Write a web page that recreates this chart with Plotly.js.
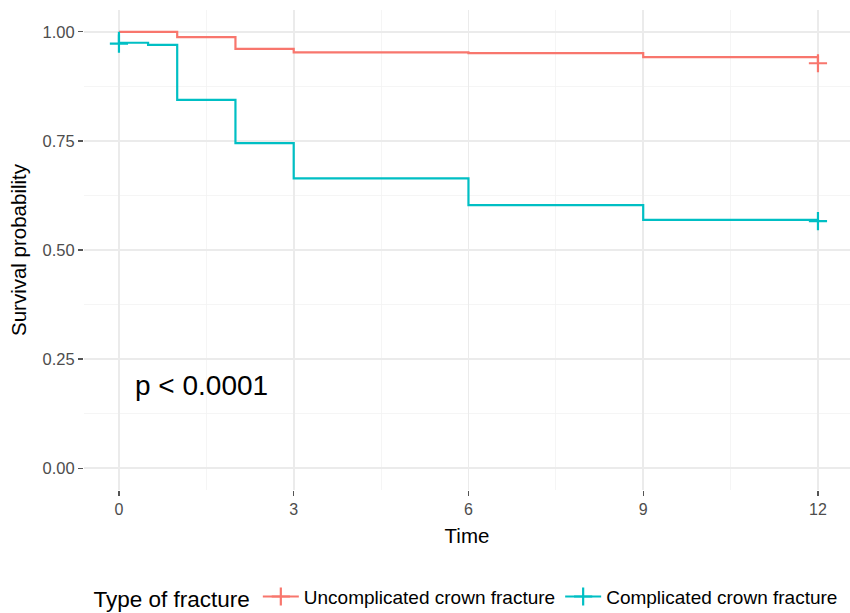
<!DOCTYPE html>
<html><head><meta charset="utf-8">
<script src="https://cdn.plot.ly/plotly-3.0.1.min.js"></script>
<style>html,body{margin:0;padding:0;background:#fff}#chart{width:850px;height:613px}</style>
</head><body><div id="chart"></div>
<script>
const seriesNames = ["Uncomplicated crown fracture", "Complicated crown fracture"];
const seriesColors = ["#F8766D", "#00BFC4"];
const uncompTime = [0, 1, 2, 3, 6, 9, 12];
const uncompSurv = [1.0, 0.988, 0.961, 0.953, 0.951, 0.942, 0.928];
const uncompCensTime = [12];
const uncompCensSurv = [0.928];
const compTime = [0, 0, 0.5, 1, 2, 3, 6, 9, 12];
const compSurv = [1.0, 0.975, 0.970, 0.844, 0.745, 0.664, 0.603, 0.569, 0.566];
const compCensTime = [0, 12];
const compCensSurv = [0.973, 0.566];
const xTicks = [0, 3, 6, 9, 12];
const yTicks = [0, 0.25, 0.5, 0.75, 1.0];
const yTickLabels = ["0.00", "0.25", "0.50", "0.75", "1.00"];
const pText = "p < 0.0001";
const legendTitle = "Type of fracture";

const font = "Liberation Sans, Arial, sans-serif";
const lines = [[uncompTime, uncompSurv], [compTime, compSurv]];
const cens = [[uncompCensTime, uncompCensSurv], [compCensTime, compCensSurv]];
const traces = [];
lines.forEach((d, i) => {
  traces.push({x: d[0], y: d[1], type: 'scatter', mode: 'lines', line: {shape: 'hv', color: seriesColors[i], width: 2.2}, showlegend: false, hoverinfo: 'skip'});
});
cens.forEach((d, i) => {
  traces.push({x: d[0], y: d[1], type: 'scatter', mode: 'markers', marker: {symbol: 'cross-thin-open', size: 13, color: seriesColors[i], line: {color: seriesColors[i], width: 2.2}}, showlegend: false});
});
seriesNames.forEach((n, i) => {
  traces.push({x: [null], y: [null], name: n, type: 'scatter', mode: 'lines+markers', line: {color: seriesColors[i], width: 2.2}, marker: {symbol: 'cross-thin-open', size: 13, color: seriesColors[i], line: {color: seriesColors[i], width: 2.2}}});
});

const layout = {
  width: 850, height: 613,
  margin: {l: 84, r: 0, t: 10, b: 123},
  paper_bgcolor: '#fff', plot_bgcolor: '#fff',
  font: {family: font, color: '#000'},
  xaxis: {
    range: [-0.6, 12.55], tickvals: xTicks, ticktext: xTicks.map(String),
    showgrid: true, gridcolor: '#EBEBEB', gridwidth: 1.6,
    minor: {tickvals: [1.5, 4.5, 7.5, 10.5], showgrid: true, gridcolor: '#F3F3F3', gridwidth: 0.8},
    zeroline: false, showline: false,
    ticks: 'outside', ticklen: 5, tickwidth: 1.2, tickcolor: '#555',
    tickfont: {size: 16, color: '#4D4D4D'},
    title: {text: 'Time', font: {size: 20.5, color: '#000'}, standoff: 11}
  },
  yaxis: {
    range: [-0.05, 1.05], tickvals: yTicks, ticktext: yTickLabels,
    showgrid: true, gridcolor: '#EBEBEB', gridwidth: 1.6,
    minor: {tickvals: [0.125, 0.375, 0.625, 0.875], showgrid: true, gridcolor: '#F3F3F3', gridwidth: 0.8},
    zeroline: false, showline: false,
    ticks: 'outside', ticklen: 5, tickwidth: 1.2, tickcolor: '#555',
    tickfont: {size: 16.5, color: '#4D4D4D'},
    title: {text: 'Survival probability', font: {size: 20.5, color: '#000'}, standoff: 10}
  },
  legend: {
    orientation: 'h', x: 0.5, xanchor: 'center', yref: 'container', y: 0.025, yanchor: 'middle',
    title: {text: legendTitle, font: {size: 22.5, color: '#000'}, side: 'left'},
    font: {size: 19, color: '#000'}, itemwidth: 36
  },
  annotations: [{x: 0.24, y: 0.19, xref: 'x', yref: 'y', text: pText, showarrow: false, xanchor: 'left', yanchor: 'middle', font: {size: 28, color: '#000'}}]
};
Plotly.newPlot('chart', traces, layout, {staticPlot: true});
</script></body></html>
